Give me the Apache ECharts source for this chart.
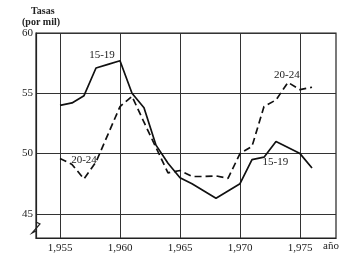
<!DOCTYPE html>
<html>
<head>
<meta charset="utf-8">
<script src="https://cdn.jsdelivr.net/npm/echarts@6/dist/echarts.min.js"></script>
<style>html,body{margin:0;padding:0;background:#fff}#c{width:362px;height:255px}</style>
</head>
<body>
<div id="c"></div>
<script>
var years = [1955,1956,1957,1958,1959,1960,1961,1962,1963,1964,1965,1966,1967,1968,1969,1970,1971,1972,1973,1974,1975,1976];
var g1519 = [54.0,54.2,54.8,57.1,57.4,57.7,55.0,53.8,50.7,49.2,48.0,47.5,46.9,46.3,46.9,47.5,49.5,49.7,51.0,50.5,50.0,48.8];
var g2024 = [49.6,49.1,47.9,49.3,51.6,53.9,54.75,52.6,50.5,48.4,48.6,48.1,48.1,48.15,47.95,50.0,50.6,53.9,54.45,55.9,55.3,55.5];
var xTicks = [1955,1960,1965,1970,1975];
var yTicks = [45,50,55,60];
var seriesNames = ['15-19','20-24'];

var font = 'Liberation Serif';
function pairs(v){ return years.map(function(y,i){ return [y, v[i]]; }); }

var chart = echarts.init(document.getElementById('c'));
chart.setOption({
  animation: false,
  backgroundColor: '#fff',
  grid: {left: 36, top: 33, right: 26, bottom: 17, show: true, borderColor: '#222', borderWidth: 1.2},
  xAxis: {
    type: 'value', min: 1953, max: 1978,
    axisLine: {show: true, lineStyle: {color: '#222', width: 1.2}},
    axisTick: {show: false, customValues: xTicks},
    axisLabel: {customValues: xTicks, color: '#222', fontFamily: font, fontSize: 11, margin: 5},
    splitLine: {show: true, lineStyle: {color: '#333', width: 1}}
  },
  yAxis: {
    type: 'value', min: 43, max: 60,
    axisLine: {show: true, lineStyle: {color: '#222', width: 1.2}},
    axisTick: {show: false, customValues: yTicks},
    axisLabel: {customValues: yTicks, color: '#222', fontFamily: font, fontSize: 11, margin: 3},
    splitLine: {show: true, lineStyle: {color: '#333', width: 1}}
  },
  graphic: [
    {type: 'text', left: 31, top: 6, style: {text: 'Tasas', font: 'bold 10px "Liberation Serif"', fill: '#222'}},
    {type: 'text', left: 22, top: 17, style: {text: '(por mil)', font: 'bold 10px "Liberation Serif"', fill: '#222'}},
    {type: 'text', left: 323, top: 241, style: {text: 'año', font: '11px "Liberation Serif"', fill: '#222'}},
    {type: 'polyline', shape: {points: [[36,231],[32,233],[40,224],[36,222]]}, style: {stroke: '#222', lineWidth: 1.2, fill: null}}
  ],
  series: [
    {
      name: seriesNames[0], type: 'line', data: pairs(g1519), symbol: 'none',
      lineStyle: {color: '#111', width: 1.7},
      markPoint: {
        symbol: 'circle', symbolSize: 0,
        label: {show: true, formatter: seriesNames[0], color: '#222', fontFamily: font, fontSize: 11, position: 'inside'},
        data: [{coord: [1958.5, 58.2]}, {coord: [1972.95, 49.3]}]
      }
    },
    {
      name: seriesNames[1], type: 'line', data: pairs(g2024), symbol: 'none',
      lineStyle: {color: '#111', width: 1.7, type: [7, 4]},
      markPoint: {
        symbol: 'circle', symbolSize: 0,
        label: {show: true, formatter: seriesNames[1], color: '#222', fontFamily: font, fontSize: 11, position: 'inside'},
        data: [{coord: [1957.0, 49.5]}, {coord: [1973.9, 56.5]}]
      }
    }
  ]
});
</script>
</body>
</html>
